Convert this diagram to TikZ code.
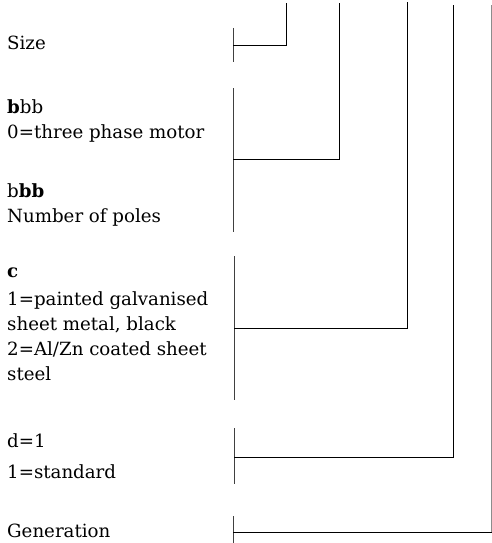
\documentclass[tikz,border=0pt]{standalone}
\usepackage{fontspec}
\setmainfont{DejaVu Serif}
\begin{document}
\begin{tikzpicture}[x=1pt,y=-1pt,
  txt/.style={anchor=base west, inner sep=0pt, font=\fontsize{18.2}{22}\selectfont},
  bar/.style={draw=black!75, line width=0.8pt},
  lead/.style={draw=black, line width=0.8pt},
  lastlead/.style={draw=black!45, line width=0.6pt}]
\useasboundingbox (0,0) rectangle (492,543);
% labels
\node[txt] (size) at (7,50) {Size};
\node[txt] (b1) at (7,113) {\textbf{b}bb};
\node[txt] (b1d) at (7,138) {0=three phase motor};
\node[txt] (b2) at (7,197) {b\textbf{bb}};
\node[txt] (b2d) at (7,222) {Number of poles};
\node[txt] (c) at (7,277) {\textbf{c}};
\node[txt] (c1) at (7,305) {1=painted galvanised};
\node[txt] (c2) at (7,330) {sheet metal, black};
\node[txt] (c3) at (7,355) {2=Al/Zn coated sheet};
\node[txt] (c4) at (7,380) {steel};
\node[txt] (d) at (7,447) {d=1};
\node[txt] (d1) at (7,478) {1=standard};
\node[txt] (g) at (7,537) {Generation};
% bracket coordinates
\coordinate (sT) at (233,28);  \coordinate (sB) at (233,62);  \coordinate (sM) at (233,45);  \coordinate (sE) at (286,3);
\coordinate (bT) at (233,88);  \coordinate (bB) at (233,232); \coordinate (bM) at (233,159); \coordinate (bE) at (339,3);
\coordinate (cT) at (234,256); \coordinate (cB) at (234,400); \coordinate (cM) at (234,328); \coordinate (cE) at (407,2);
\coordinate (dT) at (234,428); \coordinate (dB) at (234,484); \coordinate (dM) at (234,457); \coordinate (dE) at (453,5);
\coordinate (gT) at (233,516); \coordinate (gB) at (233,543); \coordinate (gM) at (233,532); \coordinate (gE) at (491.5,5);
% bars
\draw[bar] (sT) -- (sB);
\draw[bar] (bT) -- (bB);
\draw[bar] (cT) -- (cB);
\draw[bar] (dT) -- (dB);
\draw[bar] (gT) -- (gB);
% leads
\draw[lead] (sM) -| (sE);
\draw[lead] (bM) -| (bE);
\draw[lead] (cM) -| (cE);
\draw[lead] (dM) -| (dE);
\draw[lead] (gM) -- (gM -| gE);
\draw[lastlead] (gM -| gE) -- (gE);
\end{tikzpicture}
\end{document}
